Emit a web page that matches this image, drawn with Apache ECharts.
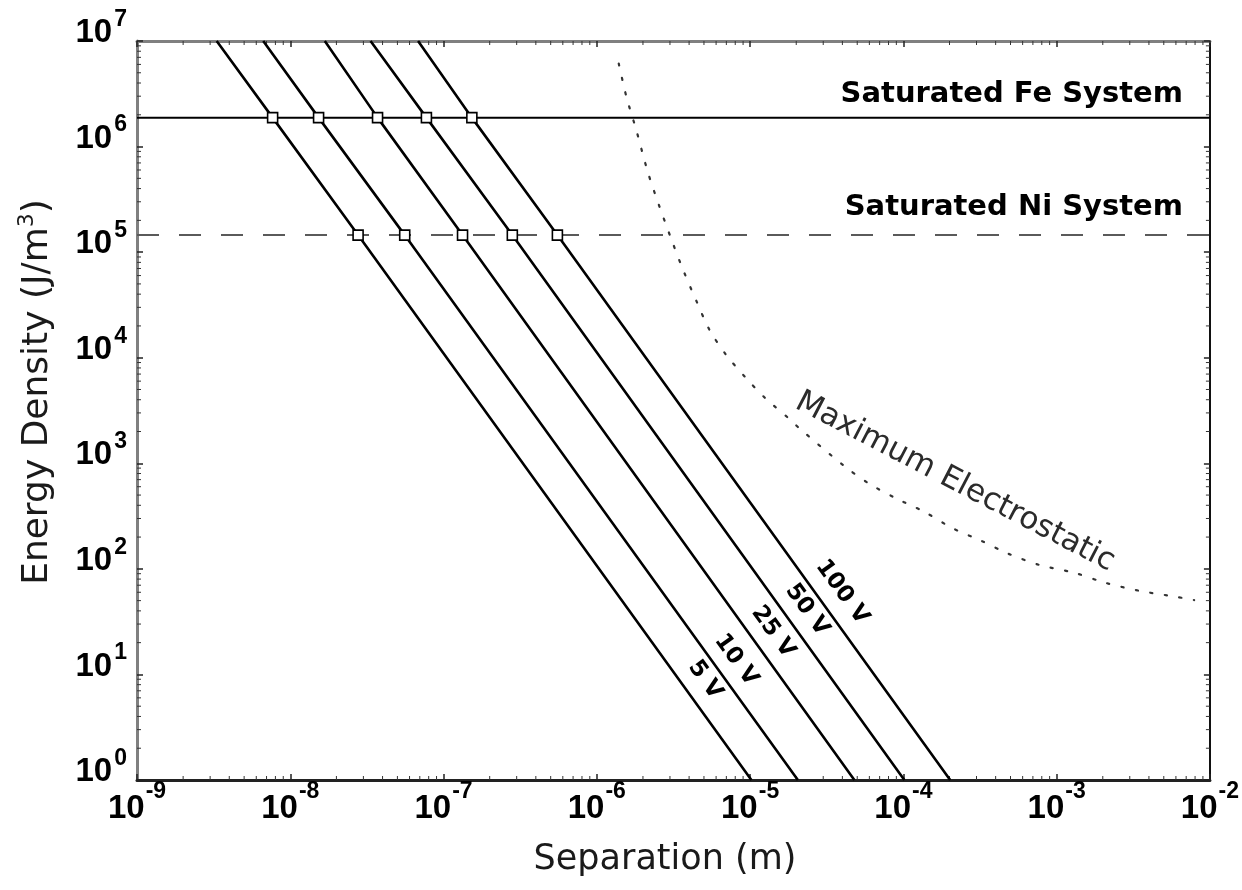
<!DOCTYPE html>
<html>
<head>
<meta charset="utf-8">
<script src="https://cdn.jsdelivr.net/npm/echarts@6/dist/echarts.min.js"></script>
<style>
  html, body { margin: 0; padding: 0; background: #fff; }
  #chart { width: 1242px; height: 890px; }
</style>
</head>
<body>
<div id="chart"></div>
<script>
// Electrostatic energy density of a parallel gap vs. separation, per applied voltage
const voltageNames = ['5 V', '10 V', '25 V', '50 V', '100 V'];
// separation (m) where each voltage line leaves the top (1e7 J/m3) and bottom (1 J/m3)
const sepAtTop    = [3.31e-9, 6.66e-9, 1.68e-8, 3.34e-8, 6.82e-8];
const sepAtBottom = [1.02e-5, 2.05e-5, 4.79e-5, 1.015e-4, 2.02e-4];
// saturated magnetic energy densities (J/m3)
const feLevel = 1.88e6;
const niLevel = 1.45e5;
// separation (m) where each voltage line crosses the Fe and Ni levels
const sepAtFe = [7.67e-9, 1.53e-8, 3.71e-8, 7.73e-8, 1.53e-7];
const sepAtNi = [2.77e-8, 5.58e-8, 1.33e-7, 2.81e-7, 5.53e-7];
// maximum electrostatic energy density curve
const maxSep = [1.39e-6, 1.56e-6, 1.81e-6, 2.15e-6, 2.53e-6, 3.11e-6, 3.70e-6, 4.49e-6,
  5.44e-6, 6.99e-6, 9.33e-6, 1.26e-5, 1.79e-5, 2.10e-5, 4.12e-5, 5.94e-5, 8.96e-5,
  1.37e-4, 2.10e-4, 3.21e-4, 4.79e-4, 7.70e-4, 1.30e-3, 2.07e-3, 3.46e-3, 5.99e-3, 7.89e-3];
const maxEnergy = [6.12e6, 2.96e6, 1.43e6, 5.76e5, 2.85e5, 1.25e5, 6.51e4, 3.38e4,
  1.83e4, 1.06e4, 6.51e3, 4.12e3, 2.66e3, 2.14e3, 941, 645, 465,
  347, 242, 185, 140, 109, 91.9, 73.9, 62.0, 54.4, 50.6];
// axis ranges and minor tick multipliers
const xRange = [1e-9, 1e-2];
const yRange = [1e0, 1e7];
const xDecades = [-9, -8, -7, -6, -5, -4, -3];
const yDecades = [0, 1, 2, 3, 4, 5, 6];
const minorSteps = [2, 3, 4, 5, 6, 7, 8, 9];

const xMinor = [];
xDecades.forEach(d => minorSteps.forEach(m => xMinor.push(m * Math.pow(10, d))));
const yMinor = [];
yDecades.forEach(d => minorSteps.forEach(m => yMinor.push(m * Math.pow(10, d))));

const TICK_FONT = '"Liberation Sans", Arial, sans-serif';
const LABEL_FONT = '"DejaVu Sans", sans-serif';

function expLabel(v) {
  return '{b|10}{e|' + Math.round(Math.log10(v)) + '}';
}

const xLabelRich = {
  b: { fontFamily: TICK_FONT, fontWeight: 'bold', fontSize: 33, lineHeight: 33, color: '#000', padding: [12, 0, 12, 0] },
  e: { fontFamily: TICK_FONT, fontWeight: 'bold', fontSize: 23, lineHeight: 23, color: '#000', padding: [0, 0, 34, 1] }
};
const yLabelRich = {
  b: { fontFamily: TICK_FONT, fontWeight: 'bold', fontSize: 33, lineHeight: 33, color: '#000', padding: [8.5, 0, 24.5, 0] },
  e: { fontFamily: TICK_FONT, fontWeight: 'bold', fontSize: 23, lineHeight: 23, color: '#000', padding: [0, 0, 43, 2] }
};

function logAxis(range, extra) {
  return Object.assign({
    type: 'log',
    logBase: 10,
    min: range[0],
    max: range[1],
    splitLine: { show: false },
    axisTick: { show: true, inside: true, length: 6, lineStyle: { color: '#222', width: 1.5 } },
    axisLabel: { show: false },
    axisLine: { show: true, onZero: false }
  }, extra);
}

const voltageSeries = voltageNames.map((name, i) => ({
  name: name,
  type: 'line',
  xAxisIndex: 0,
  yAxisIndex: 0,
  showSymbol: false,
  silent: true,
  z: 3,
  lineStyle: { color: '#000', width: 2.6 },
  data: [[sepAtTop[i], yRange[1]], [sepAtFe[i], feLevel], [sepAtNi[i], niLevel], [sepAtBottom[i], yRange[0]]]
}));

function minorTickSeries(isX) {
  return {
    type: 'custom',
    xAxisIndex: 0,
    yAxisIndex: 0,
    silent: true,
    z: 1,
    data: isX ? xMinor.map(v => [v, yRange[0]]) : yMinor.map(v => [xRange[0], v]),
    renderItem: function (params, api) {
      const p = api.coord([api.value(0), api.value(1)]);
      const r = params.coordSys;
      const st = { stroke: '#333', lineWidth: 1 };
      if (isX) {
        const yb = r.y + r.height;
        return { type: 'group', children: [
          { type: 'line', shape: { x1: p[0], y1: yb, x2: p[0], y2: yb - 4 }, style: st },
          { type: 'line', shape: { x1: p[0], y1: r.y, x2: p[0], y2: r.y + 4 }, style: st }
        ] };
      }
      const xr = r.x + r.width;
      return { type: 'group', children: [
        { type: 'line', shape: { x1: r.x, y1: p[1], x2: r.x + 4, y2: p[1] }, style: st },
        { type: 'line', shape: { x1: xr, y1: p[1], x2: xr - 4, y2: p[1] }, style: st }
      ] };
    }
  };
}

const voltageLabelPos = [[705, 680], [736, 660], [773, 632], [807, 610], [842, 592]];
const lineAngle = -54 * Math.PI / 180;

const crossingStyle = { color: '#fff', opacity: 1, borderColor: '#000', borderWidth: 1.6 };

const chart = echarts.init(document.getElementById('chart'), null, { renderer: 'canvas' });
chart.setOption({
  animation: false,
  backgroundColor: '#fff',
  grid: { left: 137, right: 32, top: 41, bottom: 110, containLabel: false },
  xAxis: [
    logAxis(xRange, {
      position: 'bottom',
      axisLine: { show: true, onZero: false, lineStyle: { color: '#222', width: 3 } },
      axisLabel: { show: true, margin: 12, formatter: expLabel, rich: xLabelRich }
    }),
    logAxis(xRange, {
      position: 'top',
      axisLine: { show: true, onZero: false, lineStyle: { color: '#808080', width: 3 } }
    })
  ],
  yAxis: [
    logAxis(yRange, {
      position: 'left',
      axisLine: { show: true, onZero: false, lineStyle: { color: '#808080', width: 3 } },
      axisLabel: { show: true, margin: 10, formatter: expLabel, rich: yLabelRich }
    }),
    logAxis(yRange, {
      position: 'right',
      axisLine: { show: true, onZero: false, lineStyle: { color: '#111', width: 2 } }
    })
  ],
  series: [
    minorTickSeries(true),
    minorTickSeries(false),
    {
      name: 'Saturated Fe System',
      type: 'line',
      showSymbol: false,
      silent: true,
      z: 2,
      lineStyle: { color: '#000', width: 2 },
      data: [[xRange[0], feLevel], [xRange[1], feLevel]]
    },
    {
      name: 'Saturated Ni System',
      type: 'line',
      showSymbol: false,
      silent: true,
      z: 2,
      lineStyle: { color: '#5a5a5a', width: 2, type: [22, 20] },
      data: [[xRange[0], niLevel], [xRange[1], niLevel]]
    },
    {
      name: 'Maximum Electrostatic',
      type: 'line',
      showSymbol: false,
      silent: true,
      smooth: 0.3,
      z: 2,
      lineStyle: { color: '#333', width: 2.2, type: [2.2, 12.5], cap: 'round' },
      data: maxSep.map((x, i) => [x, maxEnergy[i]])
    },
    ...voltageSeries,
    {
      name: 'Fe crossings',
      type: 'scatter',
      symbol: 'rect',
      symbolSize: 10,
      silent: true,
      z: 5,
      itemStyle: crossingStyle,
      data: sepAtFe.map(x => [x, feLevel])
    },
    {
      name: 'Ni crossings',
      type: 'scatter',
      symbol: 'rect',
      symbolSize: 10,
      silent: true,
      z: 5,
      itemStyle: crossingStyle,
      data: sepAtNi.map(x => [x, niLevel])
    }
  ],
  graphic: [
    {
      type: 'text', x: 1183, y: 94, z: 10,
      style: { text: 'Saturated Fe System', fontFamily: LABEL_FONT, fontWeight: 'bold', fontSize: 29, fill: '#000',
        textAlign: 'right', textVerticalAlign: 'middle', align: 'right', verticalAlign: 'middle' }
    },
    {
      type: 'text', x: 1183, y: 207, z: 10,
      style: { text: 'Saturated Ni System', fontFamily: LABEL_FONT, fontWeight: 'bold', fontSize: 29, fill: '#000',
        textAlign: 'right', textVerticalAlign: 'middle', align: 'right', verticalAlign: 'middle' }
    },
    {
      type: 'text', x: 955, y: 482, z: 10, rotation: -27.5 * Math.PI / 180,
      style: { text: 'Maximum Electrostatic', fontFamily: LABEL_FONT, fontSize: 31, fill: '#2b2b2b',
        textAlign: 'center', textVerticalAlign: 'middle', align: 'center', verticalAlign: 'middle' }
    },
    ...voltageNames.map((name, i) => ({
      type: 'text', x: voltageLabelPos[i][0], y: voltageLabelPos[i][1], z: 10, rotation: lineAngle,
      style: { text: name, fontFamily: LABEL_FONT, fontWeight: 'bold', fontSize: 23, fill: '#000',
        textAlign: 'center', textVerticalAlign: 'middle', align: 'center', verticalAlign: 'middle' }
    })),
    {
      type: 'text', x: 665, y: 860, z: 10,
      style: { text: 'Separation (m)', fontFamily: LABEL_FONT, fontSize: 35, fill: '#1a1a1a',
        textAlign: 'center', textVerticalAlign: 'middle', align: 'center', verticalAlign: 'middle' }
    },
    {
      type: 'text', x: 38, y: 392, z: 10, rotation: Math.PI / 2,
      style: {
        text: 'Energy Density (J/m{s|3})', fontFamily: LABEL_FONT, fontSize: 36, lineHeight: 44, fill: '#1a1a1a',
        textAlign: 'center', textVerticalAlign: 'middle', align: 'center', verticalAlign: 'middle',
        rich: { s: { fontFamily: LABEL_FONT, fontSize: 22, lineHeight: 22, verticalAlign: 'top', fill: '#1a1a1a', color: '#1a1a1a' } }
      }
    }
  ]
});
</script>
</body>
</html>
